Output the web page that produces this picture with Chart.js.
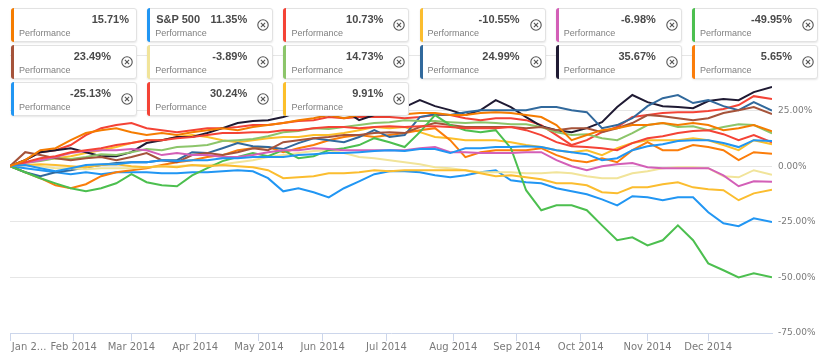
<!DOCTYPE html>
<html><head><meta charset="utf-8">
<script src="https://cdn.jsdelivr.net/npm/chart.js@4.4.0/dist/chart.umd.min.js"></script>
<style>
html,body{margin:0;padding:0;background:#fff;}
#wrap{position:relative;width:825px;height:363px;overflow:hidden;}
#c{position:absolute;left:0;top:0;}
.lg{position:absolute;width:126px;height:34px;background:#fff;border:1px solid #e2e2e2;border-radius:3px;box-shadow:0 1px 2px rgba(0,0,0,0.10);box-sizing:border-box;font-family:"Liberation Sans",Arial,sans-serif;}
.bar{position:absolute;left:-1px;top:-1px;bottom:-1px;width:3px;border-radius:3px 0 0 3px;}
.val{position:absolute;top:5px;font-weight:bold;font-size:11px;line-height:11px;color:#4a4a4a;white-space:nowrap;}
.nm{position:absolute;left:8px;top:5px;font-weight:bold;font-size:11px;line-height:11px;color:#4a4a4a;white-space:nowrap;}
.pf{position:absolute;left:7px;top:20px;font-size:9px;line-height:9px;color:#808080;white-space:nowrap;}
.x{position:absolute;right:3px;top:10px;width:12px;height:12px;}
</style>
</head>
<body>
<div id="wrap">
<canvas id="c" width="825" height="363"></canvas>
<div id="legend"></div>
</div>
<script>
// trading-day index of each sample (Jan 2 2014 = 0, Dec 31 2014 = 251)
const dayIndex = [0,5,10,15,20,25,30,35,40,45,50,55,60,65,70,75,80,85,90,95,100,105,110,115,120,125,130,135,140,145,150,155,160,165,170,175,180,185,190,195,200,205,210,215,220,225,230,235,240,245,251];

// x-axis tick positions (trading-day index) and labels
const monthTicks  = [0,21,40,61,82,103,124,146,167,188,210,230];
const monthLabels = ["Jan 2...","Feb 2014","Mar 2014","Apr 2014","May 2014","Jun 2014","Jul 2014","Aug 2014","Sep 2014","Oct 2014","Nov 2014","Dec 2014"];

// y-axis ticks
const yMin = -75, yMax = 50, yStep = 25;

// series (performance in %)
const orangeA = [0,2.7,7.2,8.1,11.7,14.9,16.2,17.1,15.3,14.0, 14.9,14.0,15.3,16.2,17.1,16.2,17.6,18.5,19.4,20.7, 21.6,23.0,21.6,23.0,23.0,23.4,23.4,23.9,23.9,23.0, 23.0,23.9,24.3,23.9,23.0,22.1,18.5,11.7,14.0,16.2, 17.1,18.5,18.5,19.4,18.5,19.4,18.5,16.2,17.1,18.5,15.71];
const sp500   = [0,0.5,-0.9,-2.3,-0.9,0.5,0.9,0.9,1.8,1.8, 2.7,2.3,2.7,2.7,3.6,3.6,4.1,4.1,4.1,5.0, 5.4,5.9,5.9,6.3,6.8,7.2,6.8,7.7,7.7,5.9, 8.1,8.1,8.6,8.6,9.0,8.6,7.2,6.3,5.4,2.7, 3.6,7.2,9.0,9.9,11.3,11.7,11.7,10.4,8.6,11.7,11.35];
const redA    = [0,1.8,3.6,4.5,6.3,7.2,8.1,9.5,10.4,11.7, 11.7,12.6,13.1,14.0,14.9,14.9,15.3,15.3,16.2,16.2, 17.1,17.6,17.6,17.1,17.6,18.0,17.6,18.0,18.0,17.6, 17.1,17.1,17.1,17.6,16.2,14.0,10.8,9.0,8.6,8.1, 7.2,10.4,12.6,13.5,14.9,15.8,16.2,14.4,11.7,14.0,10.73];
const amberA  = [0,0.5,0.9,0.5,0,-0.5,0.5,0.9,0,-0.5, 0,-0.5,0.5,0,0.5,0,-0.5,-1.8,-5.4,-5.0, -4.5,-3.2,-3.2,-2.7,-1.8,-2.3,-1.8,-1.8,-1.8,-1.8, -1.8,-3.2,-4.5,-4.1,-5.0,-5.9,-7.7,-7.7,-8.6,-11.7, -12.2,-9.5,-9.5,-8.1,-7.2,-9.5,-10.4,-10.8,-15.3,-12.2,-10.55];
const pink    = [0,1.4,2.7,4.1,5.9,6.8,7.2,7.2,7.7,7.2, 5.0,5.9,5.0,5.0,4.1,4.1,5.0,6.3,7.2,7.2, 8.1,7.7,7.2,7.2,7.2,7.2,7.2,8.1,8.6,6.3, 6.3,5.9,5.9,5.9,6.3,6.3,2.7,0,-1.8,0, 0.9,1.4,-0.5,-0.9,-0.9,-0.9,-0.9,-4.1,-9.0,-6.8,-6.98];
const green   = [0,-2.7,-5.4,-7.7,-9.9,-11.3,-9.9,-7.7,-3.6,-7.2, -8.6,-9.0,-4.1,-0.9,2.3,4.1,5.9,4.5,7.2,3.6, 4.5,7.2,8.1,9.5,12.6,10.8,8.6,15.3,23.0,18.5, 16.2,15.3,16.2,8.1,-10.8,-19.8,-17.6,-17.6,-19.8,-26.6, -33.3,-32.0,-35.6,-33.3,-26.6,-33.3,-43.7,-46.8,-50.0,-48.2,-49.95];
const brown   = [0,6.3,5.0,3.6,2.7,3.6,4.1,2.7,4.1,5.9, 2.7,1.8,5.0,5.9,5.0,6.3,8.1,7.2,10.8,11.7, 12.6,13.1,14.0,14.0,14.9,15.3,14.9,17.6,19.4,18.5, 17.6,17.6,17.6,17.6,17.1,17.6,16.2,17.1,17.1,15.3, 17.1,19.4,23.0,22.5,21.6,20.7,21.6,23.9,25.2,26.6,23.49];
const paleYel = [0,0.9,0,-0.9,-0.9,-1.4,-0.9,-0.9,-0.9,-0.5, 0,0,0.5,0.5,0.9,1.8,2.7,4.1,5.0,5.9, 6.8,7.2,5.9,4.1,3.6,2.7,1.8,0.9,-0.5,-0.9, -1.8,-2.7,-2.7,-2.7,-3.2,-3.2,-2.7,-3.2,-4.5,-5.4, -5.4,-3.2,-2.3,-0.9,-0.5,-0.5,-0.9,-4.5,-5.0,-1.8,-3.89];
const lime    = [0,1.4,2.3,3.6,3.2,4.1,5.4,5.0,6.3,7.7, 7.2,8.6,9.0,9.5,11.3,11.7,12.2,13.5,15.3,15.8, 17.1,16.7,17.6,18.5,19.4,19.8,20.7,20.3,20.3,19.8, 19.4,19.8,19.4,18.9,18.9,17.6,15.3,14.0,14.4,12.6, 11.7,14.9,18.5,19.4,17.6,18.0,16.2,17.6,18.9,18.5,14.73];
const steel   = [0,-2.7,-4.5,-2.7,-1.8,-0.5,0.5,1.4,1.8,1.8, 2.7,2.7,6.3,5.9,8.1,10.4,9.0,8.6,7.7,10.4, 12.6,11.7,10.8,13.1,16.2,13.1,14.0,22.1,23.4,23.0, 24.3,25.2,25.2,25.2,25.2,26.6,26.6,25.2,24.3,17.1, 18.5,21.6,27.0,30.6,32.0,28.4,29.7,27.0,25.2,28.8,24.99];
const navy    = [0,2.7,6.3,7.2,8.1,6.3,4.5,4.5,6.3,10.4, 11.7,13.1,13.1,14.9,17.1,19.4,20.3,20.7,22.1,24.3, 26.6,26.1,25.2,20.7,23.0,26.1,26.6,29.7,27.0,25.2, 23.0,25.2,29.7,26.6,22.1,18.0,16.2,15.3,17.1,19.8, 26.6,32.0,28.8,27.0,26.6,26.1,29.3,30.2,29.7,33.3,35.67];
const orangeB = [0,-2.7,-5.4,-8.6,-9.9,-8.1,-4.5,-2.7,-1.8,-0.9, 0.5,1.8,2.7,4.1,5.0,7.2,8.1,8.6,6.3,8.1, 9.5,11.7,13.1,14.0,13.1,14.0,14.9,16.2,17.1,11.7, 4.1,6.3,7.2,7.2,7.2,8.1,5.0,2.7,1.8,3.6, 1.8,7.2,10.8,7.2,7.2,9.5,8.6,7.2,2.7,6.3,5.65];
const blueB   = [0,-0.9,-1.8,-2.7,-3.6,-2.7,-3.6,-2.7,-2.7,-2.7, -3.2,-3.2,-2.7,-2.7,-2.3,-1.8,-2.3,-5.4,-11.3,-9.9, -11.7,-14.0,-9.9,-6.8,-3.6,-2.3,-2.3,-2.7,-4.1,-5.0, -4.1,-2.7,-1.8,-6.3,-7.2,-7.7,-9.9,-11.3,-12.6,-14.9, -17.6,-13.5,-14.0,-15.3,-14.0,-14.0,-20.7,-25.7,-27.0,-23.4,-25.13];
const redB    = [0,2.7,6.3,7.2,9.5,14.0,17.1,18.5,19.4,17.1, 16.2,15.3,16.2,17.1,17.1,17.6,18.5,18.5,19.4,20.3, 20.7,22.1,21.6,22.1,22.1,22.1,21.6,22.1,23.0,23.0, 21.6,20.7,21.6,21.6,20.7,18.5,14.0,9.5,11.7,15.3, 17.6,22.1,23.0,23.9,24.3,24.3,24.8,25.7,27.5,31.5,30.24];
const amberB  = [0,1.8,2.7,3.6,4.5,5.9,7.2,8.6,10.4,11.7, 11.7,13.1,14.0,13.1,11.7,10.8,11.7,12.6,13.1,13.1, 14.0,14.0,14.9,16.2,17.6,17.1,17.6,15.3,13.1,12.6, 11.7,11.7,11.7,10.8,9.5,8.6,7.2,6.3,7.2,5.0, 8.1,10.4,11.7,11.7,11.7,12.6,11.7,9.5,7.2,11.7,9.91];

const seriesData   = [orangeA, sp500, redA, amberA, pink, green, brown, paleYel, lime, steel, navy, orangeB, blueB, redB, amberB];
const seriesNames  = ["", "S&P 500", "", "", "", "", "", "", "", "", "", "", "", "", ""];
const seriesColors = ["#f57c00","#2196f3","#f44336","#fbbd2f","#d35fb7","#4cbf4f","#a5533a","#f1e49a","#8cc56a","#31699c","#1f1a33","#fb7d0a","#2196f3","#f44336","#fcbf2a"];
const seriesClosable = [false,true,true,true,true,true,true,true,true,true,true,true,true,true,true];
const subLabel = "Performance";

// ----- chart -----
const datasets = seriesData.map((d, i) => ({
  label: seriesNames[i] || ("Series " + (i + 1)),
  data: d.map((v, j) => ({ x: dayIndex[j], y: v })),
  borderColor: seriesColors[i],
  backgroundColor: seriesColors[i],
  borderWidth: 2,
  pointRadius: 0,
  tension: 0,
  fill: false
}));

new Chart(document.getElementById('c'), {
  type: 'line',
  data: { datasets },
  options: {
    responsive: false,
    animation: false,
    devicePixelRatio: 1,
    layout: { padding: { left: 10, top: 55, right: 0, bottom: 0 } },
    plugins: { legend: { display: false }, tooltip: { enabled: false } },
    scales: {
      x: {
        type: 'linear',
        min: 0, max: 251,
        grid: { drawOnChartArea: false, drawTicks: true, tickLength: 8, color: '#ccd6eb' },
        border: { display: true, color: '#ccd6eb' },
        ticks: {
          autoSkip: false, maxRotation: 0, minRotation: 0, padding: 0,
          font: { family: 'DejaVu Sans', size: 10 },
          color: '#7a7a7a',
          callback: (v, i) => i === 0 ? '            ' + monthLabels[0] : monthLabels[i]
        },
        afterBuildTicks: (s) => { s.ticks = monthTicks.map(v => ({ value: v })); },
        afterFit: (s) => { s.height = 30; s.paddingLeft = 0; s.paddingRight = 0; }
      },
      y: {
        position: 'right',
        min: yMin, max: yMax,
        ticks: {
          stepSize: yStep, padding: 6,
          font: { family: 'DejaVu Sans', size: 9 },
          color: '#7a7a7a',
          callback: (v) => v.toFixed(2) + '%'
        },
        grid: { drawTicks: false, color: (c) => (c.tick && c.tick.value === yMin) ? 'rgba(0,0,0,0)' : '#e6e6e6' },
        border: { display: false },
        afterFit: (s) => { s.width = 53; }
      }
    }
  }
});

// ----- legend overlay -----
const lg = document.getElementById('legend');
const colW = 136.2, rowH = 37, x0 = 11, y0 = 8, perRow = 6;
seriesData.forEach((d, i) => {
  const col = i % perRow, row = Math.floor(i / perRow);
  const box = document.createElement('div');
  box.className = 'lg';
  box.style.left = (x0 + col * colW) + 'px';
  box.style.top = (y0 + row * rowH) + 'px';
  const bar = document.createElement('div');
  bar.className = 'bar';
  bar.style.background = seriesColors[i];
  box.appendChild(bar);
  if (seriesNames[i]) {
    const nm = document.createElement('div');
    nm.className = 'nm';
    nm.textContent = seriesNames[i];
    box.appendChild(nm);
  }
  const val = document.createElement('div');
  val.className = 'val';
  val.style.right = seriesClosable[i] ? '25px' : '7px';
  val.textContent = d[d.length - 1].toFixed(2) + '%';
  box.appendChild(val);
  const pf = document.createElement('div');
  pf.className = 'pf';
  pf.textContent = subLabel;
  box.appendChild(pf);
  if (seriesClosable[i]) {
    const ns = 'http://www.w3.org/2000/svg';
    const svg = document.createElementNS(ns, 'svg');
    svg.setAttribute('class', 'x');
    svg.setAttribute('viewBox', '0 0 12 12');
    svg.innerHTML = '<circle cx="6" cy="6" r="5.2" fill="none" stroke="#555" stroke-width="1.1"/><path d="M3.9 3.9 L8.1 8.1 M8.1 3.9 L3.9 8.1" stroke="#555" stroke-width="1.1"/>';
    box.appendChild(svg);
  }
  lg.appendChild(box);
});
</script>
</body></html>
